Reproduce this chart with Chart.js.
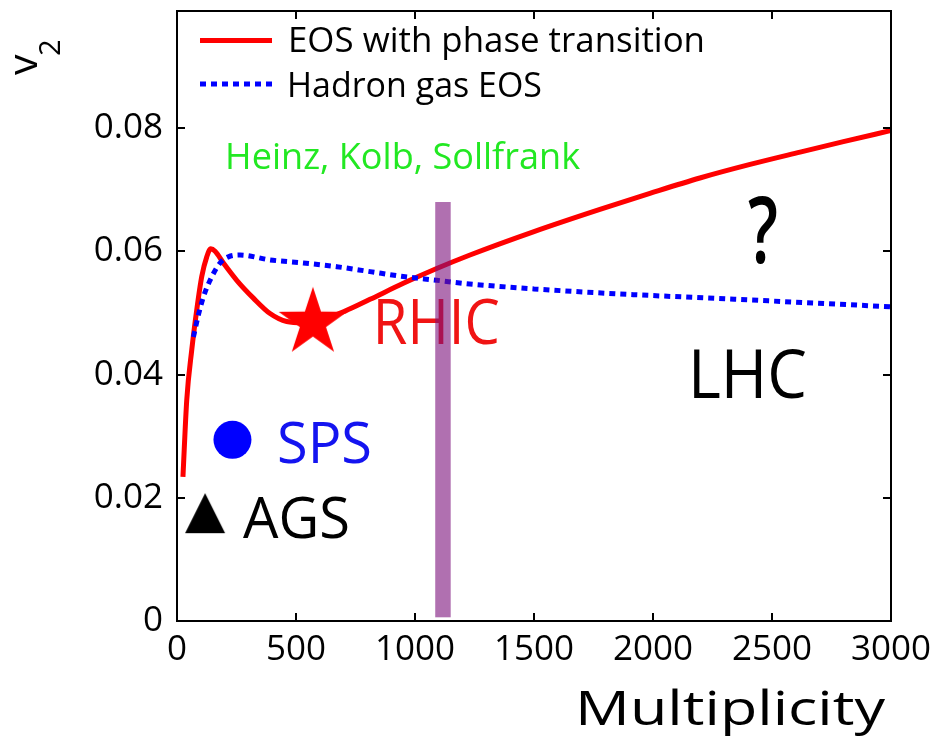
<!DOCTYPE html>
<html>
<head>
<meta charset="utf-8">
<title>v2 vs Multiplicity</title>
<script src="https://cdn.jsdelivr.net/npm/chart.js@4/dist/chart.umd.min.js"></script>
<style>
  html, body { margin: 0; padding: 0; background: #fff; }
  canvas { display: block; }
</style>
</head>
<body>
<canvas id="chart" width="940" height="748"></canvas>
<script>
// Hydrodynamic elliptic flow v2 versus charged multiplicity
const phaseTransitionMult = [25, 41, 62, 83, 104, 125, 142, 160, 195, 251, 321, 391, 461, 530, 600, 706, 811, 951, 1091, 1231, 1500, 1777, 1987, 2197, 2408, 2618, 2800, 3000];
const phaseTransitionV2   = [0.0234, 0.0359, 0.044, 0.0505, 0.0559, 0.0591, 0.0604, 0.0600, 0.0581, 0.0553, 0.0524, 0.0499, 0.0486, 0.0484, 0.0488, 0.0503, 0.0522, 0.0548, 0.0572, 0.0594, 0.0632, 0.0668, 0.0694, 0.0719, 0.0741, 0.0761, 0.0778, 0.0796];

const hadronGasMult = [69, 90, 111, 139, 181, 216, 265, 391, 531, 671, 811, 951, 1091, 1203, 1500, 1798, 2408, 3000];
const hadronGasV2   = [0.0461, 0.0497, 0.0526, 0.0553, 0.0581, 0.0591, 0.0594, 0.0586, 0.0581, 0.0575, 0.0567, 0.0559, 0.0553, 0.0548, 0.0539, 0.0532, 0.0521, 0.0510];

// Measured points: AGS, SPS, RHIC
const agsPoint  = { x: 118, y: 0.0175 };
const spsPoint  = { x: 233, y: 0.0294 };
const rhicPoint = { x: 571, y: 0.0484 };

// LHC-era multiplicity band
const bandMult = [1085, 1150];
const bandV2   = [0.0006, 0.068];

const xTickValues = [0, 500, 1000, 1500, 2000, 2500, 3000];
const xTickLabels = ['0', '500', '1000', '1500', '2000', '2500', '3000'];
const yTickValues = [0, 0.02, 0.04, 0.06, 0.08];
const yTickLabels = ['0', '0.02', '0.04', '0.06', '0.08'];

const FONT = '"Open Sans", "Noto Sans", sans-serif';
const CAP = 0.714; // cap-height / em for Open Sans

// Text drawn at a given cap height and stretched to a given width
function fitText(ctx, text, x, baseline, cap, width, color, weight) {
  const size = cap / CAP;
  ctx.save();
  ctx.font = (weight || 400) + ' ' + size + 'px ' + FONT;
  ctx.textAlign = 'left';
  ctx.textBaseline = 'alphabetic';
  const w = ctx.measureText(text).width;
  ctx.translate(x, baseline);
  ctx.scale(width / w, 1);
  ctx.fillStyle = color;
  ctx.fillText(text, 0, 0);
  ctx.restore();
}

// Filled five-point star used as a point marker
function makeStar(R, color) {
  const c = document.createElement('canvas');
  const s = Math.ceil(R * 2 + 4);
  c.width = s; c.height = s;
  const g = c.getContext('2d');
  const cx = s / 2, cy = s / 2, r = R * 0.382;
  g.beginPath();
  for (let i = 0; i < 10; i++) {
    const rad = (i % 2 === 0) ? R : r;
    const a = -Math.PI / 2 + i * Math.PI / 5;
    const px = cx + rad * Math.cos(a), py = cy + rad * Math.sin(a);
    i === 0 ? g.moveTo(px, py) : g.lineTo(px, py);
  }
  g.closePath();
  g.fillStyle = color;
  g.fill();
  return c;
}

// Filled upward triangle marker (w x h)
function makeTriangle(w, h, color) {
  const c = document.createElement('canvas');
  c.width = w + 2; c.height = h + 2;
  const g = c.getContext('2d');
  g.beginPath();
  g.moveTo(1 + w / 2, 1);
  g.lineTo(1 + w, 1 + h);
  g.lineTo(1, 1 + h);
  g.closePath();
  g.fillStyle = color;
  g.fill();
  return c;
}

const toXY = (xs, ys) => xs.map((x, i) => ({ x: x, y: ys[i] }));

// Labels anchored in data coordinates: [text, mult, v2(baseline), capHeight, width, color, weight]
const dataLabels = [
  ['Heinz, Kolb, Sollfrank', 202, 0.0733, 26, 355, 'rgb(34,232,34)', 400],
  ['RHIC', 823, 0.0450, 44, 127, '#f01414', 400],
  ['SPS', 420, 0.0256, 40, 95, '#1414f0', 400],
  ['AGS', 277, 0.0135, 41, 107, '#000', 400],
  ['LHC', 2147, 0.0362, 48, 119, '#000', 400],
  ['?', 2399, 0.0581, 66, 30, '#000', 600]
];

const decorPlugin = {
  id: 'decor',
  afterDatasetsDraw(chart) {
    const ctx = chart.ctx;
    const xs = chart.scales.x, ys = chart.scales.y;

    // annotations
    dataLabels.forEach(l => {
      fitText(ctx, l[0], xs.getPixelForValue(l[1]), ys.getPixelForValue(l[2]), l[3], l[4], l[5], l[6]);
    });

    // translucent band
    const bx0 = xs.getPixelForValue(bandMult[0]), bx1 = xs.getPixelForValue(bandMult[1]);
    const by0 = ys.getPixelForValue(bandV2[1]), by1 = ys.getPixelForValue(bandV2[0]);
    ctx.save();
    ctx.fillStyle = 'rgba(123,17,123,0.6)';
    ctx.fillRect(bx0, by0, bx1 - bx0, by1 - by0);
    ctx.restore();

    // legend
    ctx.save();
    ctx.lineWidth = 5;
    ctx.strokeStyle = '#ff0000';
    ctx.beginPath(); ctx.moveTo(200, 40.5); ctx.lineTo(272, 40.5); ctx.stroke();
    ctx.strokeStyle = '#0000ff';
    ctx.setLineDash([6, 5]);
    ctx.beginPath(); ctx.moveTo(200, 84); ctx.lineTo(272, 84); ctx.stroke();
    ctx.restore();
    fitText(ctx, 'EOS with phase transition', 288, 52, 25, 417, '#000', 400);
    fitText(ctx, 'Hadron gas EOS', 287, 97, 24.5, 255, '#000', 400);
  },
  afterDraw(chart) {
    const ctx = chart.ctx;
    const xs = chart.scales.x, ys = chart.scales.y;
    const a = chart.chartArea;
    const tl = 8;
    ctx.save();
    ctx.strokeStyle = '#000';
    ctx.lineWidth = 2;
    ctx.strokeRect(a.left, a.top, a.right - a.left, a.bottom - a.top);
    ctx.beginPath();
    xTickValues.forEach(v => {
      const px = Math.round(xs.getPixelForValue(v));
      ctx.moveTo(px, a.bottom); ctx.lineTo(px, a.bottom - tl);
      ctx.moveTo(px, a.top); ctx.lineTo(px, a.top + tl);
    });
    yTickValues.forEach(v => {
      const py = Math.round(ys.getPixelForValue(v));
      ctx.moveTo(a.left, py); ctx.lineTo(a.left + tl, py);
      ctx.moveTo(a.right, py); ctx.lineTo(a.right - tl, py);
    });
    ctx.stroke();
    ctx.restore();

    // axis titles
    fitText(ctx, 'Multiplicity', 575, 725, 34, 310, '#000', 400);
    ctx.save();
    ctx.translate(37, 75);
    ctx.rotate(-Math.PI / 2);
    ctx.fillStyle = '#000';
    ctx.textAlign = 'left';
    ctx.textBaseline = 'alphabetic';
    ctx.font = '400 41px ' + FONT;
    ctx.fillText('v', 0, 0);
    ctx.font = '400 29px ' + FONT;
    ctx.fillText('2', 19, 23);
    ctx.restore();
  }
};

Chart.defaults.color = '#000';
Chart.defaults.font.family = FONT;

new Chart(document.getElementById('chart'), {
  type: 'scatter',
  data: {
    datasets: [
      {
        label: 'RHIC',
        data: [rhicPoint],
        pointStyle: makeStar(36, '#ff0000'),
        order: -3
      },
      {
        label: 'SPS',
        data: [spsPoint],
        pointStyle: 'circle',
        pointRadius: 19,
        backgroundColor: '#0000ff',
        borderWidth: 0,
        order: -2
      },
      {
        label: 'AGS',
        data: [agsPoint],
        pointStyle: makeTriangle(40, 40, '#000'),
        order: -1
      },
      {
        label: 'Hadron gas EOS',
        data: toXY(hadronGasMult, hadronGasV2),
        showLine: true,
        borderColor: '#0000ff',
        borderWidth: 5,
        borderDash: [6, 5],
        pointRadius: 0,
        cubicInterpolationMode: 'monotone',
        order: 0
      },
      {
        label: 'EOS with phase transition',
        data: toXY(phaseTransitionMult, phaseTransitionV2),
        showLine: true,
        borderColor: '#ff0000',
        borderWidth: 5,
        pointRadius: 0,
        cubicInterpolationMode: 'monotone',
        order: 1
      }
    ]
  },
  options: {
    responsive: false,
    animation: false,
    devicePixelRatio: 1,
    layout: { autoPadding: false, padding: { top: 11, right: 49, left: 0, bottom: 0 } },
    plugins: { legend: { display: false }, tooltip: { enabled: false } },
    scales: {
      x: {
        type: 'linear',
        min: 0, max: 3000,
        grid: { display: false },
        border: { display: false },
        afterBuildTicks: s => { s.ticks = xTickValues.map(v => ({ value: v })); },
        afterFit: s => { s.height = 127; s.paddingLeft = 0; s.paddingRight = 0; },
        ticks: {
          autoSkip: false,
          maxRotation: 0,
          padding: 0,
          font: { size: 35 },
          callback: (v, i) => xTickLabels[i]
        }
      },
      y: {
        type: 'linear',
        min: 0, max: 0.099,
        grid: { display: false },
        border: { display: false },
        afterBuildTicks: s => { s.ticks = yTickValues.map(v => ({ value: v })); },
        afterFit: s => { s.width = 177; s.paddingTop = 0; s.paddingBottom = 0; },
        ticks: {
          autoSkip: false,
          padding: 6,
          font: { size: 35 },
          callback: (v, i) => yTickLabels[i]
        }
      }
    }
  },
  plugins: [decorPlugin]
});
</script>
</body>
</html>
